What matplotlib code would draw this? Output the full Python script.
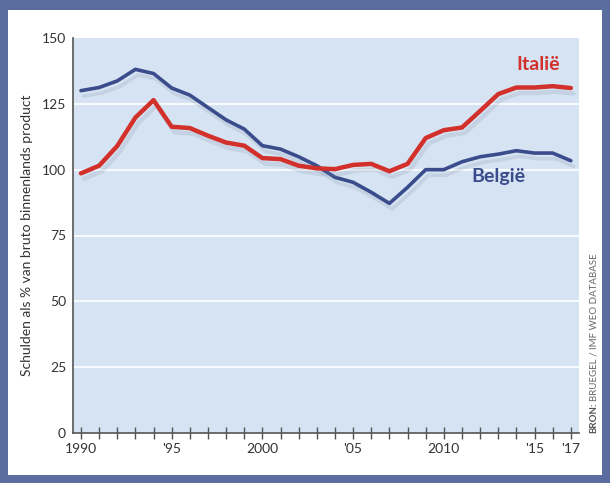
import matplotlib.pyplot as plt
import matplotlib.patches as mpatches
import matplotlib.patheffects as pe

plt.rcParams['font.family'] = ['Lato', 'DejaVu Sans']

# Government debt as % of GDP
years = list(range(1990, 2018))
belgie = [130, 131.2, 133.7, 138.1, 136.5, 131, 128.3, 123.6, 118.9, 115.4,
          109.1, 107.8, 104.9, 101.5, 97.1, 95.2, 91.4, 87.2, 93.3, 100,
          100, 103, 104.9, 105.9, 107.2, 106.3, 106.3, 103.4]
italie = [98.6, 101.5, 109, 119.8, 126.4, 116.3, 115.8, 112.9, 110.3, 109.1,
          104.4, 104, 101.5, 100.5, 100.2, 101.8, 102.2, 99.4, 102.2, 112,
          115, 116, 122.3, 128.7, 131.2, 131.2, 131.7, 131]
y_ticks = [0, 25, 50, 75, 100, 125, 150]
x_labels = {1990: '1990', 1995: "'95", 2000: '2000', 2005: "'05",
            2010: '2010', 2015: "'15", 2017: "'17"}

fig = plt.figure(figsize=(6.1, 4.83), dpi=100)
fig.patch.set_facecolor('#5b6c9e')
fig.patches.append(mpatches.Rectangle((8 / 610, 8 / 483), 594 / 610, 465 / 483,
                                      transform=fig.transFigure, facecolor='white',
                                      edgecolor='none', zorder=-5))

ax = fig.add_axes([73 / 610, 1 - 433 / 483, 506 / 610, 395 / 483])
ax.set_zorder(2)
ax.set_facecolor('#d5e3f2')

for y in y_ticks[1:-1]:
    ax.axhline(y, color='white', lw=1.2, zorder=1)

shadow = [pe.SimpleLineShadow(offset=(2, -4), shadow_color='#8090a8', alpha=0.2), pe.Normal()]
ax.plot(years, belgie, color='#3a4c8c', lw=2.6, solid_capstyle='round', zorder=3, path_effects=shadow)
ax.plot(years, italie, color='#d2302b', lw=3.2, solid_capstyle='round', zorder=4, path_effects=shadow)

ax.text(2015.2, 140, 'Italië', color='#d2302b', fontsize=14, fontweight='bold', ha='center', va='center')
ax.text(2013.0, 97.5, 'België', color='#3a4c8c', fontsize=14, fontweight='bold', ha='center', va='center')

ax.set_xlim(1989.56, 2017.45)
ax.set_ylim(0, 150)
ax.set_yticks(y_ticks)
ax.tick_params(axis='y', length=0, pad=5, labelsize=10, labelcolor='#333333')
ax.set_xticks(years)
ax.set_xticklabels([x_labels.get(y, '') for y in years])
ax.tick_params(axis='x', direction='inout', length=9, width=1, color='#555555',
               pad=3, labelsize=10, labelcolor='#333333')

for s in ['top', 'right']:
    ax.spines[s].set_visible(False)
for s in ['left', 'bottom']:
    ax.spines[s].set_color('#555555')
    ax.spines[s].set_linewidth(1.2)

fig.text(27 / 610, 1 - 235 / 483, 'Schulden als % van bruto binnenlands product',
         rotation=90, ha='center', va='center', fontsize=10, color='#333333')

# source line, bold "BRON:" followed by the rest
t1 = fig.text(594 / 610, 1 - 433 / 483, 'BRON:', rotation=90, ha='center', va='bottom',
              fontsize=7, fontweight='bold', color='#555555')
fig.canvas.draw()
bb = t1.get_window_extent()
fig.text(594 / 610, (bb.y1 + 2) / fig.bbox.height, 'BRUEGEL / IMF WEO DATABASE', rotation=90,
         ha='center', va='bottom', fontsize=7, color='#666666')

fig.savefig('out.png', dpi=100, facecolor=fig.get_facecolor())
